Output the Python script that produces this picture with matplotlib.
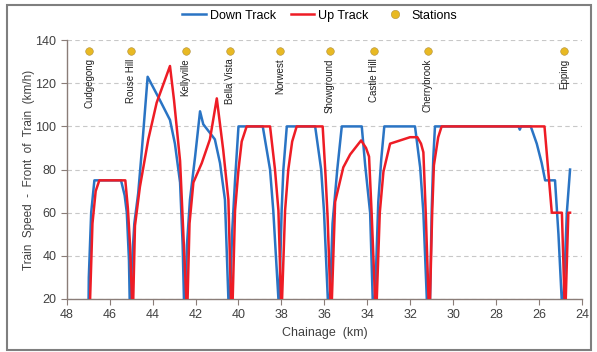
import matplotlib
matplotlib.use('Agg')
import matplotlib.pyplot as plt
from matplotlib.patches import Rectangle
from matplotlib.lines import Line2D

plt.rcParams['font.family'] = ['Liberation Sans', 'DejaVu Sans']

# Down track (blue): chainage (km) and speed (km/h)
down_km = [47.00, 46.97, 46.86, 46.71, 45.47, 45.30, 45.20, 45.10, 45.03,
           44.97, 44.85, 44.67, 44.50, 44.23, 43.65, 43.19, 42.96, 42.72,
           42.60, 42.54, 42.50, 42.46, 42.40, 42.26, 42.02, 41.79, 41.64,
           41.33, 41.10, 40.86, 40.63, 40.47, 40.43, 40.39, 40.30, 40.16,
           40.00, 38.87, 38.53, 38.38, 38.14, 38.12, 38.10, 37.99, 37.91,
           37.75, 36.43, 36.15, 36.02, 35.84, 35.79, 35.74, 35.62, 35.40,
           35.19, 34.26, 34.10, 33.87, 33.75, 33.70, 33.64, 33.49, 33.35,
           33.21, 31.78, 31.54, 31.39, 31.23, 31.15, 31.08, 31.00, 30.93,
           30.85, 26.96, 26.90, 26.84, 26.39, 26.11, 25.88, 25.72, 25.26,
           25.10, 24.95, 24.90, 24.86, 24.71, 24.56]
down_speed = [0, 30, 60, 75, 75, 68, 60, 38, 0,
              35, 55, 69, 89, 123, 112, 103, 92, 74,
              45, 20, 0, 20, 45, 66, 86, 107, 101,
              97, 94, 83, 66, 20, 0, 20, 50, 75,
              100, 100, 80, 61, 20, 0, 20, 61, 80,
              100, 100, 80, 61, 20, 0, 20, 55, 80,
              100, 100, 82, 60, 20, 0, 20, 65, 85,
              100, 100, 81, 60, 20, 0, 20, 62, 85,
              100, 100, 98.5, 100, 100, 92, 83, 75, 75,
              50, 20, 0, 20, 60, 80]

# Up track (red)
up_km = [46.93, 46.91, 46.80, 46.65, 46.48, 45.27, 45.15, 45.05, 44.96,
         44.94, 44.90, 44.82, 44.59, 44.20, 43.81, 43.19, 43.00, 42.72,
         42.43, 42.40, 42.37, 42.28, 42.10, 41.71, 41.33, 41.01, 40.71,
         40.47, 40.35, 40.31, 40.27, 40.16, 40.00, 39.85, 39.62, 38.53,
         38.30, 38.14, 38.02, 38.00, 37.97, 37.83, 37.68, 37.50, 37.29,
         36.08, 35.95, 35.85, 35.72, 35.70, 35.65, 35.50, 35.12, 34.80,
         34.29, 34.06, 33.92, 33.80, 33.64, 33.60, 33.56, 33.42, 33.25,
         32.94, 32.01, 31.67, 31.50, 31.39, 31.28, 31.15, 31.12, 31.08,
         30.98, 30.90, 30.70, 30.54, 25.75, 25.41, 24.94, 24.82, 24.79,
         24.76, 24.64, 24.56]
up_speed = [0, 20, 55, 70, 75, 75, 62, 45, 20,
            0, 20, 54, 72, 94, 111, 128, 112, 84,
            20, 0, 20, 55, 74, 83, 94, 113, 89,
            66, 20, 0, 20, 61, 80, 93, 100, 100,
            80, 61, 20, 0, 20, 61, 80, 93, 100,
            100, 78, 58, 20, 0, 20, 65, 81, 87,
            93.5, 90, 86, 60, 20, 0, 20, 60, 79,
            92, 95, 95, 92, 88, 60, 20, 0, 20,
            60, 82, 95, 100, 100, 60, 60, 20, 0,
            20, 60, 60]

stations = ['Cudgegong', 'Rouse Hill', 'Kellyville', 'Bella Vista', 'Norwest',
            'Showground', 'Castle Hill', 'Cherrybrook', 'Epping']
station_km = [46.96, 45.0, 42.46, 40.4, 38.07, 35.74, 33.67, 31.19, 24.84]
station_y = 135

blue = '#2a74c4'
red = '#ee1c25'
gold = '#e8b923'
text_col = '#404040'

fig = plt.figure(figsize=(5.97, 3.52), dpi=100)
ax = fig.add_axes([0.1117, 0.1506, 0.8633, 0.7354])

ax.plot(down_km, down_speed, color=blue, lw=1.8, solid_joinstyle='round', zorder=3)
ax.plot(up_km, up_speed, color=red, lw=1.8, solid_joinstyle='round', zorder=4)
ax.scatter(station_km, [station_y] * len(station_km), s=30, color=gold,
           edgecolor='#b09040', linewidth=0.4, zorder=5)
for name, km in zip(stations, station_km):
    ax.text(km, station_y - 3.5, name, rotation=90, ha='center', va='top',
            fontsize=7, color='#202020')

ax.set_xlim(48, 24)
ax.set_ylim(20, 140)
ax.set_xticks(range(48, 23, -2))
ax.set_yticks(range(20, 141, 20))
ax.yaxis.grid(True, linestyle=(0, (4, 3)), color='#c8c8c8', lw=0.8)
ax.set_axisbelow(True)
for s in ['top', 'right']:
    ax.spines[s].set_visible(False)
for s in ['left', 'bottom']:
    ax.spines[s].set_color('#8a7d78')
    ax.spines[s].set_linewidth(1.0)
ax.tick_params(direction='out', length=4, color='#8a7d78', labelsize=9,
               labelcolor=text_col)
ax.set_xlabel('Chainage  (km)', fontsize=9, color=text_col, labelpad=4)
ax.set_ylabel('Train  Speed  -  Front  of  Train  (km/h)', fontsize=8.5,
              color=text_col, labelpad=0)

handles = [Line2D([], [], color=blue, lw=1.8),
           Line2D([], [], color=red, lw=1.8),
           Line2D([], [], ls='none', marker='o', markersize=6, color=gold,
                  markeredgecolor='#b09040', markeredgewidth=0.4)]
fig.legend(handles, ['Down Track', 'Up Track', 'Stations'], loc='center',
           bbox_to_anchor=(0.535, 0.955), ncol=3, frameon=False, fontsize=9,
           handlelength=1.9, columnspacing=1.2, handletextpad=0.3)

fig.patches.append(Rectangle((7 / 597, 2 / 352), 584 / 597, 345 / 352,
                             transform=fig.transFigure, fill=False,
                             edgecolor='#7f7f7f', lw=1.5))

fig.savefig('out.png', dpi=100)
